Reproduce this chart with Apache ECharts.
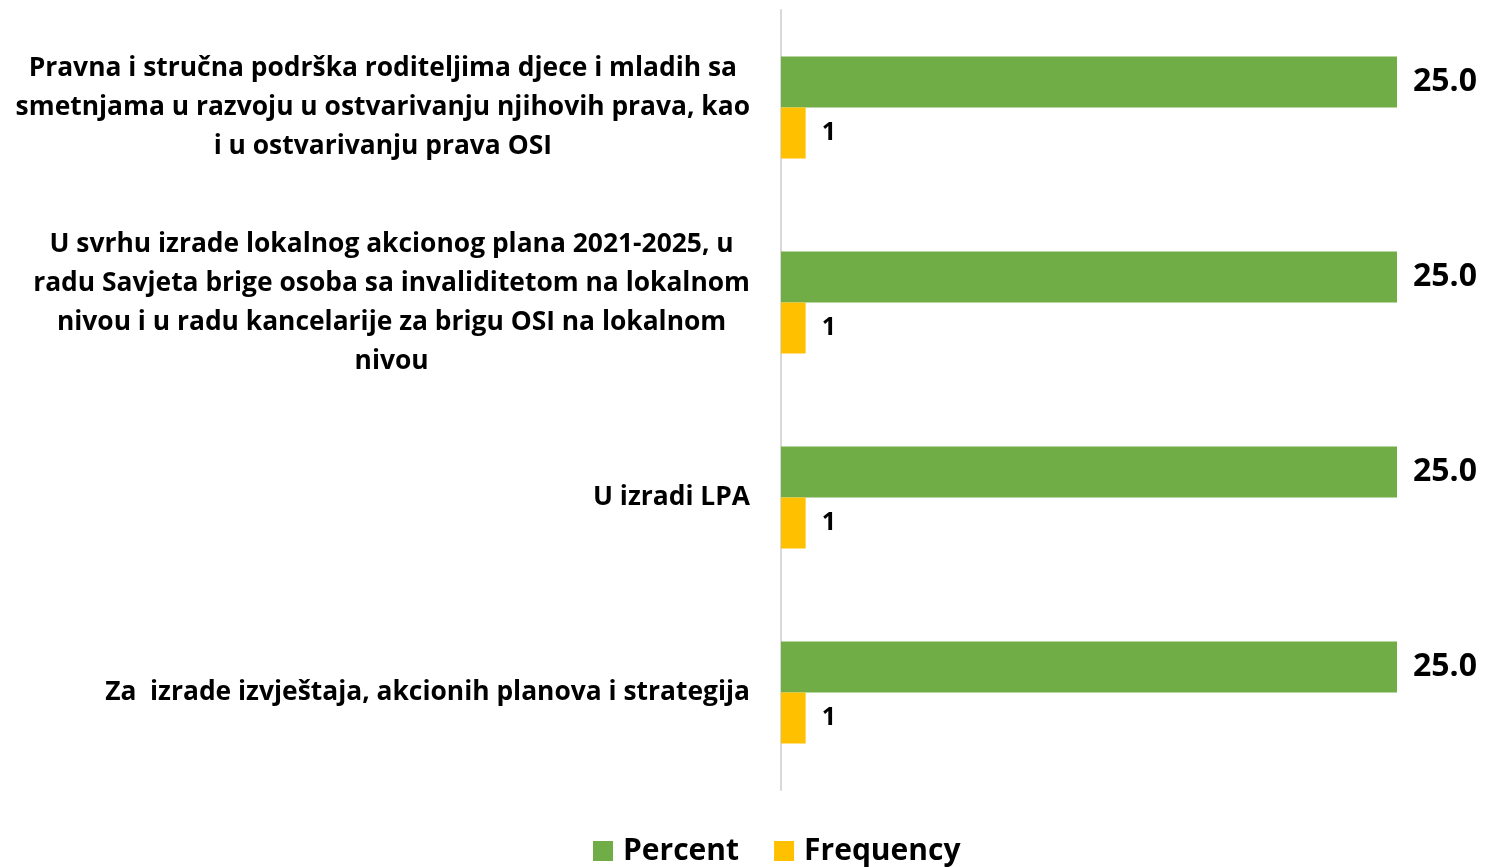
<!DOCTYPE html>
<html>
<head>
<meta charset="utf-8">
<script src="https://cdn.jsdelivr.net/npm/echarts@6/dist/echarts.min.js"></script>
<style>
  body { margin: 0; padding: 0; background: #fff; }
  #chart { width: 1488px; height: 867px; }
</style>
</head>
<body>
<div id="chart"></div>
<script>
// categories, top to bottom, with the line breaks as in the picture
const categories = [
  "Pravna i stručna podrška roditeljima djece i mladih sa\nsmetnjama u razvoju u ostvarivanju njihovih prava, kao\ni u ostvarivanju prava OSI",
  "U svrhu izrade lokalnog akcionog plana 2021-2025, u\nradu Savjeta brige osoba sa invaliditetom na lokalnom\nnivou i u radu kancelarije za brigu OSI na lokalnom\nnivou",
  "U izradi LPA",
  "Za  izrade izvještaja, akcionih planova i strategija"
];
const percentValues = [25.0, 25.0, 25.0, 25.0];
const frequencyValues = [1, 1, 1, 1];

const font = "'Open Sans', sans-serif";

let chart = echarts.init(document.getElementById("chart"));
chart.setOption({
  animation: false,
  textStyle: { fontFamily: font },
  legend: {
    data: ["Percent", "Frequency"],
    left: 588,
    top: 829,
    itemWidth: 20,
    itemHeight: 20,
    itemGap: 35,
    icon: "rect",
    textStyle: {
      fontSize: 30, fontWeight: "bold", color: "#000", fontFamily: font,
      lineHeight: 34, padding: [0, 0, 0, 5]
    }
  },
  grid: { left: 781, right: 91, top: 10, bottom: 77 },
  xAxis: {
    type: "value",
    min: 0,
    max: 25,
    show: false
  },
  yAxis: {
    type: "category",
    inverse: true,
    data: categories,
    axisLine: { lineStyle: { color: "#d9d9d9", width: 2 } },
    axisTick: { show: false },
    axisLabel: {
      margin: 31,
      align: "right",
      color: "#000",
      formatter: function (v) {
        return v.split("\n").map(function (l) { return "{c|" + l + "}"; }).join("\n");
      },
      rich: {
        c: { align: "center", fontSize: 26.4, fontWeight: "bold", lineHeight: 39, color: "#000", fontFamily: font }
      }
    }
  },
  series: [
    {
      name: "Percent",
      type: "bar",
      data: percentValues,
      barWidth: 51,
      barGap: "0%",
      itemStyle: { color: "#70ad47" },
      label: {
        show: true,
        position: "right",
        distance: 16,
        formatter: function (p) { return p.value.toFixed(1); },
        fontSize: 32,
        fontWeight: "bold",
        color: "#000",
        fontFamily: font,
        padding: [4, 0, 0, 0]
      }
    },
    {
      name: "Frequency",
      type: "bar",
      data: frequencyValues,
      barWidth: 51,
      barGap: "0%",
      itemStyle: { color: "#ffc000" },
      label: {
        show: true,
        position: "right",
        distance: 16,
        fontSize: 25,
        fontWeight: "bold",
        color: "#000",
        fontFamily: font,
        padding: [4, 0, 0, 0]
      }
    }
  ]
});
</script>
</body>
</html>
